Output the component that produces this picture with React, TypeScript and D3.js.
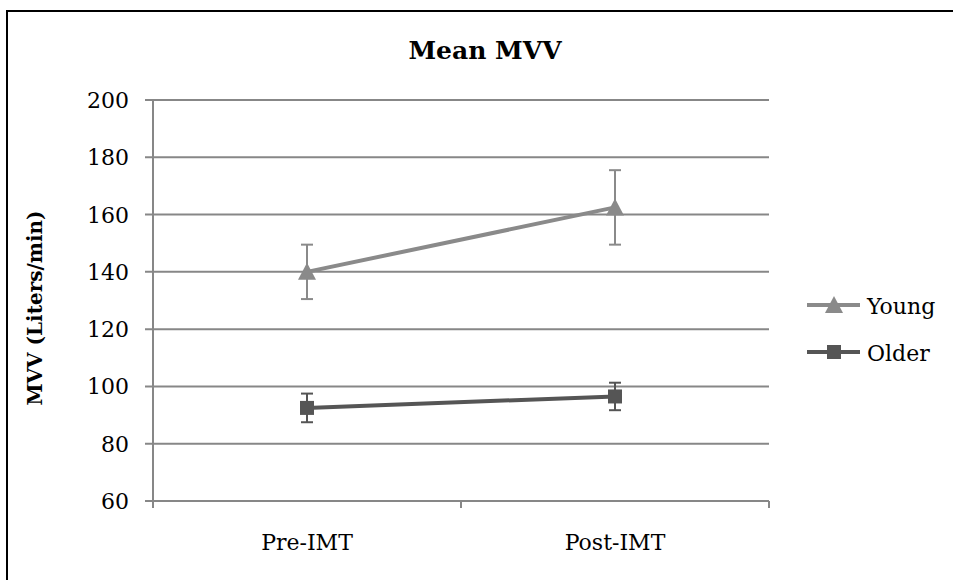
import React from "react";
import * as d3 from "d3";

const categories = ["Pre-IMT", "Post-IMT"];
const youngMean = [140, 162.5];
const youngErr = [9.5, 13];
const olderMean = [92.5, 96.5];
const olderErr = [5, 4.8];
const yTicks = [60, 80, 100, 120, 140, 160, 180, 200];
const seriesNames = ["Young", "Older"];

const W = 953;
const H = 580;
const FONT = "'DejaVu Serif', serif";

export default function App() {
  const left = 153, right = 769, top = 100, bottom = 501;
  const x = d3.scaleBand<string>().domain(categories).range([left, right]);
  const y = d3.scaleLinear().domain([60, 200]).range([bottom, top]);
  const cx = (c: string) => (x(c) as number) + x.bandwidth() / 2;

  const line = d3.line<[number, number]>().x((d) => d[0]).y((d) => d[1]);
  const gridColor = "#878787";
  const youngColor = "#8a8a8a";
  const olderColor = "#555555";

  const series = [
    { name: seriesNames[0], mean: youngMean, err: youngErr, color: youngColor, marker: "tri" },
    { name: seriesNames[1], mean: olderMean, err: olderErr, color: olderColor, marker: "sq" },
  ];

  const marker = (kind: string, mx: number, my: number, color: string, key: string) =>
    kind === "tri" ? (
      <path key={key} d={`M${mx},${my - 9}L${mx + 9},${my + 8}L${mx - 9},${my + 8}Z`} fill={color} />
    ) : (
      <rect key={key} x={mx - 7} y={my - 7} width={14} height={14} fill={color} />
    );

  return (
    <div style={{ position: "fixed", left: 0, top: 0, width: W, height: H, background: "#fff" }}>
      <svg width={W} height={H} style={{ display: "block" }}>
        <rect x={0} y={0} width={W} height={H} fill="#fff" />
        <rect x={7} y={11} width={W + 20} height={H + 20} fill="none" stroke="#000" strokeWidth={2} />
        <text x={485} y={59} textAnchor="middle" fontSize={25} fontWeight="bold" fontFamily={FONT}>
          Mean MVV
        </text>
        {yTicks.map((t) => (
          <g key={t}>
            <line x1={left - 8} x2={right} y1={y(t)} y2={y(t)} stroke={gridColor} strokeWidth={2} />
            <text x={129} y={y(t) + 8} textAnchor="end" fontSize={22} fontFamily={FONT}>
              {t}
            </text>
          </g>
        ))}
        <line x1={left} x2={left} y1={top} y2={bottom + 7} stroke={gridColor} strokeWidth={2} />
        {[left, ...categories.map((c) => (x(c) as number) + x.bandwidth())].map((px, i) => (
          <line key={i} x1={px} x2={px} y1={bottom} y2={bottom + 7} stroke={gridColor} strokeWidth={2} />
        ))}
        {categories.map((c) => (
          <text key={c} x={cx(c)} y={550} textAnchor="middle" fontSize={22} fontFamily={FONT}>
            {c}
          </text>
        ))}
        <text
          transform={`translate(42,308) rotate(-90)`}
          textAnchor="middle"
          fontSize={20}
          fontWeight="bold"
          fontFamily={FONT}
        >
          MVV (Liters/min)
        </text>
        {series.map((s) => (
          <g key={s.name}>
            {categories.map((c, i) => {
              const px = cx(c);
              const hi = y(s.mean[i] + s.err[i]);
              const lo = y(s.mean[i] - s.err[i]);
              return (
                <g key={c}>
                  <line x1={px} x2={px} y1={hi} y2={lo} stroke={s.color} strokeWidth={2} />
                  <line x1={px - 6} x2={px + 6} y1={hi} y2={hi} stroke={s.color} strokeWidth={2} />
                  <line x1={px - 6} x2={px + 6} y1={lo} y2={lo} stroke={s.color} strokeWidth={2} />
                </g>
              );
            })}
            <path
              d={line(categories.map((c, i) => [cx(c), y(s.mean[i])] as [number, number])) || ""}
              fill="none"
              stroke={s.color}
              strokeWidth={4}
            />
            {categories.map((c, i) => marker(s.marker, cx(c), y(s.mean[i]), s.color, c))}
          </g>
        ))}
        {series.map((s, i) => {
          const ly = 305 + i * 47;
          return (
            <g key={s.name}>
              <line x1={807} x2={860} y1={ly} y2={ly} stroke={s.color} strokeWidth={4} />
              {marker(s.marker, 834, ly, s.color, "m")}
              <text x={867} y={ly + 9} fontSize={22} fontFamily={FONT}>
                {s.name}
              </text>
            </g>
          );
        })}
      </svg>
    </div>
  );
}
